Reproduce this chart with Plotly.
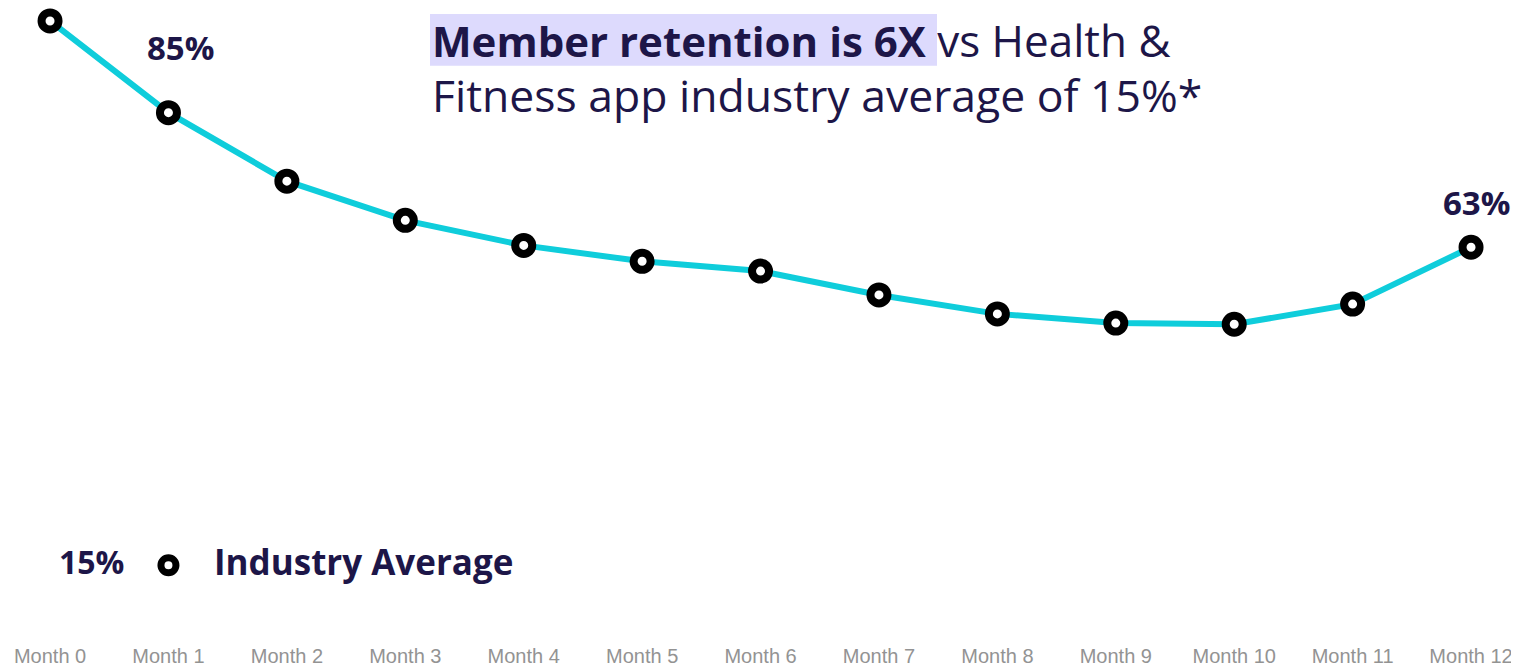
import plotly.graph_objects as go

# ---- data ----
months = ["Month 0", "Month 1", "Month 2", "Month 3", "Month 4", "Month 5", "Month 6",
          "Month 7", "Month 8", "Month 9", "Month 10", "Month 11", "Month 12"]
retention = [100, 85, 73.8, 67.4, 63.3, 60.7, 59.1, 55.2, 52.1, 50.6, 50.4, 53.7, 63]
industry_average = 15
label_points = {1: "85%", 12: "63%"}

# ---- styling / layout positions ----
NAVY = "#1D1648"
CYAN = "#0FCDDB"
HIGHLIGHT = "#DDDAFD"
FONT = "Open Sans"
INDUSTRY_ROW_Y = 11  # vertical position of the "legend-like" industry row
W, H = 1511, 659      # page body has an 8px margin
PLOT_H = 632

x_idx = list(range(len(months)))

fig = go.Figure()
fig.add_trace(go.Scatter(
    x=x_idx, y=retention, mode="lines+markers",
    line=dict(color=CYAN, width=6),
    marker=dict(size=17, color="white", line=dict(color="black", width=8)),
    hoverinfo="skip", showlegend=False,
))
fig.add_trace(go.Scatter(
    x=[1], y=[INDUSTRY_ROW_Y], mode="markers",
    marker=dict(size=15, color="white", line=dict(color="black", width=7)),
    hoverinfo="skip", showlegend=False,
))

fig.add_annotation(x=1, y=retention[1], text="<b>" + label_points[1] + "</b>",
                   xref="x", yref="y", showarrow=False, xshift=12, yshift=65,
                   font=dict(family=FONT, size=33, color=NAVY))
fig.add_annotation(x=12, y=retention[12], text="<b>" + label_points[12] + "</b>",
                   xref="x", yref="y", showarrow=False, xshift=5, yshift=45,
                   font=dict(family=FONT, size=33, color=NAVY))
fig.add_annotation(x=1, y=INDUSTRY_ROW_Y, text="<b>%d%%</b>" % industry_average,
                   xref="x", yref="y", showarrow=False, xshift=-77, yshift=4,
                   font=dict(family=FONT, size=32, color=NAVY))
fig.add_annotation(x=1, y=INDUSTRY_ROW_Y, text="<b>Industry Average</b>",
                   xref="x", yref="y", showarrow=False, xanchor="left", xshift=44, yshift=4,
                   font=dict(family=FONT, size=35, color=NAVY))

# title
fig.add_annotation(x=422 / W, y=1 - 0 / PLOT_H, xref="paper", yref="paper",
                   xanchor="left", yanchor="top", align="left", showarrow=False,
                   text=("<b>Member retention is 6X</b><span style='font-size:44px'> vs Health &amp;</span><br>"
                         "<span style='font-size:44.5px'>Fitness app industry average of 15%*</span>"),
                   font=dict(family=FONT, size=42, color=NAVY))

fig.add_shape(type="rect", xref="paper", yref="paper",
              x0=422 / W, x1=929 / W, y0=1 - 58 / PLOT_H, y1=1 - 6 / PLOT_H,
              fillcolor=HIGHLIGHT, line=dict(width=0), layer="below")

fig.update_layout(
    width=W, height=H,
    margin=dict(l=0, r=0, t=0, b=H - PLOT_H),
    plot_bgcolor="white", paper_bgcolor="white",
    xaxis=dict(range=[-0.355, 12.405], tickmode="array", tickvals=x_idx, ticktext=months,
               showgrid=False, zeroline=False, showline=False, ticks="",
               ticklabelstandoff=4,
               tickfont=dict(family="Liberation Sans", size=20, color="#939393"),
               fixedrange=True),
    yaxis=dict(range=[-0.9, 102.12], visible=False, fixedrange=True),
)

fig.write_html("out.html")
